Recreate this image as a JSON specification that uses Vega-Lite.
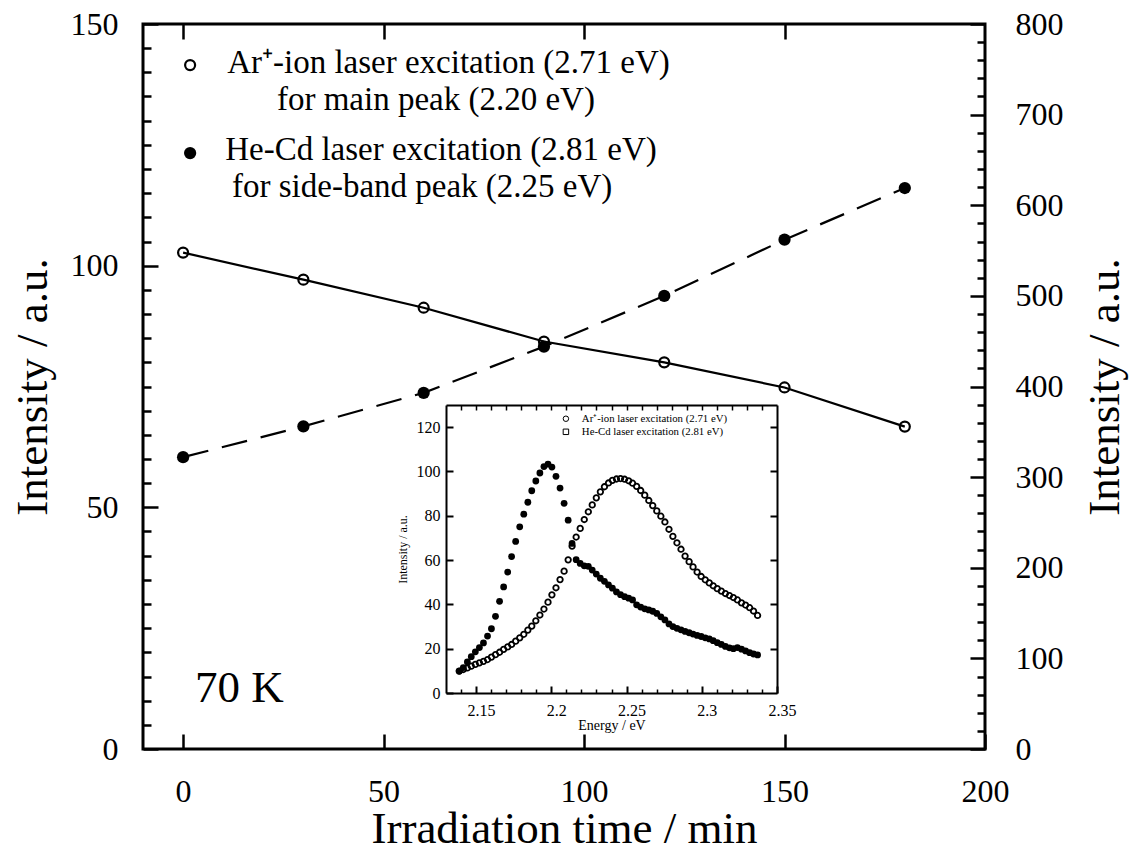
{
  "$schema": "https://vega.github.io/schema/vega-lite/v6.json",
  "width": 842,
  "height": 725,
  "autosize": {"type": "none"},
  "padding": {"left": 143, "top": 24, "right": 148, "bottom": 101},
  "background": "white",
  "config": {
    "view": {"stroke": "black", "strokeWidth": 3},
    "axis": {"grid": false, "labelFont": "Liberation Serif", "titleFont": "Liberation Serif", "labelColor": "black", "titleColor": "black", "tickColor": "black", "domainColor": "black", "titleFontWeight": "normal", "labelFlush": false, "labelOverlap": false, "labelBound": false},
    "text": {"font": "Liberation Serif"}
  },
  "datasets": {
    "main": [
      {"t": 0, "ar": 102.7, "he": 322},
      {"t": 30, "ar": 97.1, "he": 356},
      {"t": 60, "ar": 91.3, "he": 393},
      {"t": 90, "ar": 84.3, "he": 444},
      {"t": 120, "ar": 80.0, "he": 500},
      {"t": 150, "ar": 74.8, "he": 562},
      {"t": 180, "ar": 66.7, "he": 619}
    ],
    "mainlegend": [
      {"t": 11.0, "y": 141.9, "label": "Ar⁺-ion laser excitation (2.71 eV)"},
      {"t": 23.4, "y": 134.3, "label": "for main peak (2.20 eV)"},
      {"t": 10.5, "y": 123.9, "label": "He-Cd laser excitation (2.81 eV)"},
      {"t": 12.2, "y": 116.3, "label": "for side-band peak (2.25 eV)"}
    ],
    "inset": [
      {"E": 2.1388, "ar": 9.9, "hecd": 9.9},
      {"E": 2.1415, "ar": 10.6, "hecd": 11.5},
      {"E": 2.1442, "ar": 11.3, "hecd": 14.0},
      {"E": 2.1468, "ar": 12.1, "hecd": 16.4},
      {"E": 2.1495, "ar": 12.9, "hecd": 18.6},
      {"E": 2.1522, "ar": 13.6, "hecd": 20.5},
      {"E": 2.1549, "ar": 14.3, "hecd": 22.6},
      {"E": 2.1576, "ar": 15.1, "hecd": 25.7},
      {"E": 2.1602, "ar": 16.2, "hecd": 29.0},
      {"E": 2.1629, "ar": 17.3, "hecd": 34.6},
      {"E": 2.1656, "ar": 18.4, "hecd": 41.4},
      {"E": 2.1683, "ar": 19.7, "hecd": 47.9},
      {"E": 2.1710, "ar": 20.8, "hecd": 54.6},
      {"E": 2.1736, "ar": 21.9, "hecd": 61.6},
      {"E": 2.1763, "ar": 23.4, "hecd": 68.4},
      {"E": 2.1790, "ar": 24.9, "hecd": 75.0},
      {"E": 2.1817, "ar": 26.5, "hecd": 80.7},
      {"E": 2.1844, "ar": 28.4, "hecd": 86.1},
      {"E": 2.1870, "ar": 30.2, "hecd": 91.3},
      {"E": 2.1897, "ar": 32.6, "hecd": 95.7},
      {"E": 2.1924, "ar": 35.2, "hecd": 99.3},
      {"E": 2.1951, "ar": 37.9, "hecd": 102.2},
      {"E": 2.1978, "ar": 41.0, "hecd": 103.3},
      {"E": 2.2004, "ar": 44.3, "hecd": 102.0},
      {"E": 2.2031, "ar": 47.5, "hecd": 97.8},
      {"E": 2.2058, "ar": 51.2, "hecd": 92.5},
      {"E": 2.2085, "ar": 55.0, "hecd": 85.6},
      {"E": 2.2112, "ar": 60.1, "hecd": 78.0},
      {"E": 2.2138, "ar": 66.3, "hecd": 67.5},
      {"E": 2.2165, "ar": 70.4, "hecd": 60.2},
      {"E": 2.2192, "ar": 74.3, "hecd": 58.5},
      {"E": 2.2219, "ar": 78.3, "hecd": 57.4},
      {"E": 2.2246, "ar": 81.8, "hecd": 57.2},
      {"E": 2.2272, "ar": 84.9, "hecd": 55.5},
      {"E": 2.2299, "ar": 88.1, "hecd": 53.7},
      {"E": 2.2326, "ar": 90.8, "hecd": 51.8},
      {"E": 2.2353, "ar": 93.1, "hecd": 50.4},
      {"E": 2.2380, "ar": 94.8, "hecd": 48.8},
      {"E": 2.2406, "ar": 96.0, "hecd": 47.3},
      {"E": 2.2433, "ar": 96.6, "hecd": 45.6},
      {"E": 2.2460, "ar": 96.8, "hecd": 44.4},
      {"E": 2.2487, "ar": 96.5, "hecd": 43.5},
      {"E": 2.2514, "ar": 95.8, "hecd": 42.8},
      {"E": 2.2540, "ar": 94.7, "hecd": 42.0},
      {"E": 2.2567, "ar": 93.3, "hecd": 39.8},
      {"E": 2.2594, "ar": 91.4, "hecd": 38.8},
      {"E": 2.2621, "ar": 89.3, "hecd": 38.0},
      {"E": 2.2648, "ar": 86.9, "hecd": 37.5},
      {"E": 2.2674, "ar": 84.6, "hecd": 36.9},
      {"E": 2.2701, "ar": 82.2, "hecd": 35.9},
      {"E": 2.2728, "ar": 79.8, "hecd": 34.4},
      {"E": 2.2755, "ar": 77.2, "hecd": 33.0},
      {"E": 2.2782, "ar": 73.9, "hecd": 31.2},
      {"E": 2.2808, "ar": 70.7, "hecd": 30.0},
      {"E": 2.2835, "ar": 67.8, "hecd": 29.2},
      {"E": 2.2862, "ar": 64.9, "hecd": 28.5},
      {"E": 2.2889, "ar": 61.8, "hecd": 27.8},
      {"E": 2.2916, "ar": 59.3, "hecd": 27.2},
      {"E": 2.2942, "ar": 56.9, "hecd": 26.6},
      {"E": 2.2969, "ar": 54.6, "hecd": 26.0},
      {"E": 2.2996, "ar": 52.6, "hecd": 25.5},
      {"E": 2.3023, "ar": 51.1, "hecd": 24.9},
      {"E": 2.3050, "ar": 49.7, "hecd": 24.4},
      {"E": 2.3076, "ar": 48.4, "hecd": 23.6},
      {"E": 2.3103, "ar": 47.1, "hecd": 22.7},
      {"E": 2.3130, "ar": 46.0, "hecd": 21.9},
      {"E": 2.3157, "ar": 44.9, "hecd": 21.0},
      {"E": 2.3184, "ar": 44.0, "hecd": 20.4},
      {"E": 2.3210, "ar": 43.1, "hecd": 20.0},
      {"E": 2.3237, "ar": 42.0, "hecd": 20.5},
      {"E": 2.3264, "ar": 40.7, "hecd": 19.8},
      {"E": 2.3291, "ar": 39.7, "hecd": 19.0},
      {"E": 2.3318, "ar": 38.5, "hecd": 18.2},
      {"E": 2.3344, "ar": 37.0, "hecd": 17.6},
      {"E": 2.3371, "ar": 35.0, "hecd": 17.2}
    ],
    "insetlegend": [
      {"E": 2.2203, "v": 123.5, "label": "Ar⁺-ion laser excitation (2.71 eV)"},
      {"E": 2.2203, "v": 117.6, "label": "He-Cd laser excitation (2.81 eV)"}
    ]
  },
  "layer": [
    {
      "layer": [
        {
          "layer": [
            {
              "data": {"name": "main"},
              "mark": {"type": "line", "color": "black", "strokeWidth": 2.2},
              "encoding": {
                "x": {"field": "t", "type": "quantitative", "scale": {"domain": [-10, 200], "nice": false, "zero": false},
                  "axis": {"orient": "bottom", "values": [0, 50, 100, 150, 200], "domain": false, "tickSize": -15, "tickWidth": 2.5, "labelPadding": 42, "labelFontSize": 32, "format": "d", "title": "Irradiation time / min", "titleFontSize": 45, "titlePadding": -1}},
                "y": {"field": "ar", "type": "quantitative", "scale": {"domain": [0, 150], "nice": false, "zero": false},
                  "axis": {"orient": "left", "values": [0, 50, 100, 150], "domain": false, "tickSize": -15, "tickWidth": 2.5, "labelPadding": 40, "labelFontSize": 32, "format": "d", "title": "Intensity / a.u.", "titleFontSize": 45, "titlePadding": 15}}
              }
            },
            {
              "data": {"name": "main"},
              "mark": {"type": "point", "shape": "circle", "filled": false, "color": "black", "strokeWidth": 2.2, "size": 100, "opacity": 1},
              "encoding": {
                "x": {"field": "t", "type": "quantitative", "scale": {"domain": [-10, 200], "nice": false, "zero": false},
                  "axis": {"orient": "top", "values": [0, 50, 100, 150], "domain": false, "tickSize": -15, "tickWidth": 2.5, "labels": false, "title": null}},
                "y": {"field": "ar", "type": "quantitative", "scale": {"domain": [0, 150], "nice": false, "zero": false},
                  "axis": {"orient": "left", "values": [5, 10, 15, 20, 25, 30, 35, 40, 45, 55, 60, 65, 70, 75, 80, 85, 90, 95, 105, 110, 115, 120, 125, 130, 135, 140, 145], "domain": false, "tickSize": -8, "tickWidth": 2.5, "labels": false, "title": null}}
              }
            },
            {
              "data": {"name": "mainlegend"},
              "mark": {"type": "text", "align": "left", "baseline": "middle", "fontSize": 33, "font": "Liberation Serif", "color": "black"},
              "encoding": {
                "x": {"field": "t", "type": "quantitative", "scale": {"domain": [-10, 200], "nice": false, "zero": false}, "axis": null},
                "y": {"field": "y", "type": "quantitative", "scale": {"domain": [0, 150], "nice": false, "zero": false}, "axis": null},
                "text": {"field": "label"}
              }
            },
            {
              "data": {"values": [{"t": 1.75, "y": 141.5}]},
              "mark": {"type": "point", "shape": "circle", "filled": false, "color": "black", "strokeWidth": 2.2, "size": 100, "opacity": 1},
              "encoding": {
                "x": {"field": "t", "type": "quantitative", "scale": {"domain": [-10, 200], "nice": false, "zero": false}, "axis": null},
                "y": {"field": "y", "type": "quantitative", "scale": {"domain": [0, 150], "nice": false, "zero": false}, "axis": null}
              }
            },
            {
              "data": {"values": [{"t": 1.75, "y": 123.3}]},
              "mark": {"type": "point", "shape": "circle", "filled": true, "color": "black", "size": 150, "opacity": 1},
              "encoding": {
                "x": {"field": "t", "type": "quantitative", "scale": {"domain": [-10, 200], "nice": false, "zero": false}, "axis": null},
                "y": {"field": "y", "type": "quantitative", "scale": {"domain": [0, 150], "nice": false, "zero": false}, "axis": null}
              }
            },
            {
              "data": {"values": [{"t": 3.0, "y": 12.6, "label": "70 K"}]},
              "mark": {"type": "text", "align": "left", "baseline": "middle", "fontSize": 45, "font": "Liberation Serif", "color": "black"},
              "encoding": {
                "x": {"field": "t", "type": "quantitative", "scale": {"domain": [-10, 200], "nice": false, "zero": false}, "axis": null},
                "y": {"field": "y", "type": "quantitative", "scale": {"domain": [0, 150], "nice": false, "zero": false}, "axis": null},
                "text": {"field": "label"}
              }
            }
          ],
          "resolve": {"axis": {"x": "independent", "y": "independent"}}
        },
        {
          "layer": [
            {
              "data": {"name": "main"},
              "mark": {"type": "line", "color": "black", "strokeWidth": 2.2, "strokeDash": [26, 14]},
              "encoding": {
                "x": {"field": "t", "type": "quantitative", "scale": {"domain": [-10, 200], "nice": false, "zero": false}, "axis": null},
                "y": {"field": "he", "type": "quantitative", "scale": {"domain": [0, 800], "nice": false, "zero": false},
                  "axis": {"orient": "right", "values": [0, 100, 200, 300, 400, 500, 600, 700, 800], "domain": false, "tickSize": -15, "tickWidth": 2.5, "labelPadding": 45, "labelFontSize": 32, "format": "d", "title": "Intensity / a.u.", "titleFontSize": 45, "titleAngle": 270, "titleBaseline": "top", "titlePadding": 19}}
              }
            },
            {
              "data": {"name": "main"},
              "mark": {"type": "point", "shape": "circle", "filled": true, "color": "black", "size": 150, "opacity": 1},
              "encoding": {
                "x": {"field": "t", "type": "quantitative", "scale": {"domain": [-10, 200], "nice": false, "zero": false}, "axis": null},
                "y": {"field": "he", "type": "quantitative", "scale": {"domain": [0, 800], "nice": false, "zero": false},
                  "axis": {"orient": "right", "values": [20, 40, 60, 80, 120, 140, 160, 180, 220, 240, 260, 280, 320, 340, 360, 380, 420, 440, 460, 480, 520, 540, 560, 580, 620, 640, 660, 680, 720, 740, 760, 780], "domain": false, "tickSize": -8, "tickWidth": 2.5, "labels": false, "title": null}}
              }
            }
          ],
          "resolve": {"axis": {"x": "independent", "y": "independent"}}
        }
      ],
      "resolve": {"scale": {"y": "independent"}, "axis": {"x": "independent", "y": "independent"}}
    },
    {
      "layer": [
        {
          "data": {"name": "inset"},
          "mark": {"type": "point", "shape": "circle", "filled": false, "color": "black", "strokeWidth": 1.8, "size": 30, "opacity": 1},
          "encoding": {
            "x": {"field": "E", "type": "quantitative", "scale": {"domain": [2.13, 2.35], "range": [303, 634], "nice": false, "zero": false},
              "axis": {"orient": "bottom", "offset": -56, "values": [2.15, 2.2, 2.25, 2.3, 2.35], "format": ".2~f", "domain": true, "domainWidth": 2, "tickSize": -7, "tickWidth": 2, "labelPadding": 16, "labelFontSize": 16, "labelOffset": 5, "title": "Energy / eV", "titleFontSize": 14, "titlePadding": 0}},
            "y": {"field": "ar", "type": "quantitative", "scale": {"domain": [0, 130], "range": [669, 381], "nice": false, "zero": false},
              "axis": {"orient": "left", "offset": -303, "values": [0, 20, 40, 60, 80, 100, 120], "format": "d", "domain": true, "domainWidth": 2, "tickSize": -7, "tickWidth": 2, "labelPadding": 13, "labelFontSize": 16, "title": "Intensity / a.u.", "titleFontSize": 12, "titlePadding": 7}}
          }
        },
        {
          "data": {"name": "inset"},
          "mark": {"type": "point", "shape": "circle", "filled": true, "color": "black", "size": 46, "opacity": 1},
          "encoding": {
            "x": {"field": "E", "type": "quantitative", "scale": {"domain": [2.13, 2.35], "range": [303, 634], "nice": false, "zero": false},
              "axis": {"orient": "top", "offset": -381, "values": [2.14, 2.15, 2.16, 2.17, 2.18, 2.19, 2.2, 2.21, 2.22, 2.23, 2.24, 2.25, 2.26, 2.27, 2.28, 2.29, 2.3, 2.31, 2.32, 2.33, 2.34], "domain": true, "domainWidth": 2, "tickSize": -5, "tickWidth": 1.5, "labels": false, "title": null}},
            "y": {"field": "hecd", "type": "quantitative", "scale": {"domain": [0, 130], "range": [669, 381], "nice": false, "zero": false},
              "axis": {"orient": "right", "offset": -208, "values": [20, 40, 60, 80, 100, 120], "domain": true, "domainWidth": 2, "tickSize": -7, "tickWidth": 2, "labels": false, "title": null}}
          }
        },
        {
          "data": {"values": [{"E": 2.2097, "v": 123.8}]},
          "mark": {"type": "point", "shape": "circle", "filled": false, "color": "black", "strokeWidth": 1, "size": 30, "opacity": 1},
          "encoding": {
            "x": {"field": "E", "type": "quantitative", "scale": {"domain": [2.13, 2.35], "range": [303, 634], "nice": false, "zero": false},
              "axis": {"orient": "bottom", "offset": -56, "values": [2.14, 2.16, 2.17, 2.18, 2.19, 2.21, 2.22, 2.23, 2.24, 2.26, 2.27, 2.28, 2.29, 2.31, 2.32, 2.33, 2.34], "domain": false, "tickSize": -4, "tickWidth": 1.5, "labels": false, "title": null}},
            "y": {"field": "v", "type": "quantitative", "scale": {"domain": [0, 130], "range": [669, 381], "nice": false, "zero": false}, "axis": null}
          }
        },
        {
          "data": {"values": [{"E": 2.2097, "v": 117.9}]},
          "mark": {"type": "point", "shape": "square", "filled": false, "color": "black", "strokeWidth": 1, "size": 30, "opacity": 1},
          "encoding": {
            "x": {"field": "E", "type": "quantitative", "scale": {"domain": [2.13, 2.35], "range": [303, 634], "nice": false, "zero": false}, "axis": null},
            "y": {"field": "v", "type": "quantitative", "scale": {"domain": [0, 130], "range": [669, 381], "nice": false, "zero": false}, "axis": null}
          }
        },
        {
          "data": {"name": "insetlegend"},
          "mark": {"type": "text", "align": "left", "baseline": "middle", "fontSize": 10.8, "font": "Liberation Serif", "color": "black"},
          "encoding": {
            "x": {"field": "E", "type": "quantitative", "scale": {"domain": [2.13, 2.35], "range": [303, 634], "nice": false, "zero": false}, "axis": null},
            "y": {"field": "v", "type": "quantitative", "scale": {"domain": [0, 130], "range": [669, 381], "nice": false, "zero": false}, "axis": null},
            "text": {"field": "label"}
          }
        }
      ],
      "resolve": {"axis": {"x": "independent", "y": "independent"}}
    }
  ],
  "resolve": {"scale": {"x": "independent", "y": "independent"}, "axis": {"x": "independent", "y": "independent"}}
}
